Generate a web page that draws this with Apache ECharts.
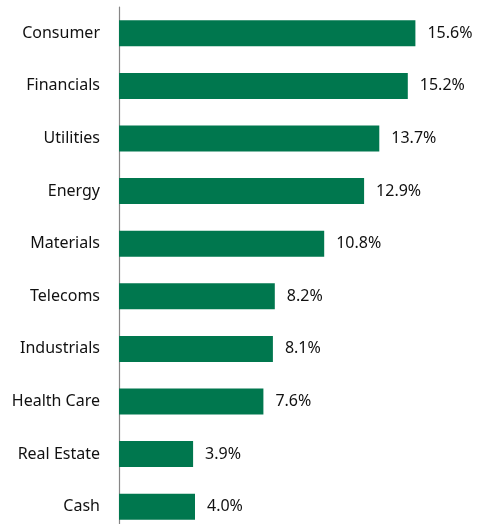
<!DOCTYPE html>
<html>
<head>
<meta charset="utf-8">
<script src="https://cdn.jsdelivr.net/npm/echarts@6/dist/echarts.min.js"></script>
<style>
html,body{margin:0;padding:0;background:#fff;overflow:hidden;}
#chart{width:477px;height:540px;}
</style>
</head>
<body>
<div id="chart"></div>
<script>
const categories = ["Consumer","Financials","Utilities","Energy","Materials","Telecoms","Industrials","Health Care","Real Estate","Cash"];
const values = [15.6,15.2,13.7,12.9,10.8,8.2,8.1,7.6,3.9,4.0];

const chart = echarts.init(document.getElementById('chart'));
chart.setOption({
  animation: false,
  grid: {left: 119, top: 7, width: 342, height: 526, containLabel: false},
  xAxis: {
    type: 'value', min: 0, max: 18,
    show: false
  },
  yAxis: {
    type: 'category',
    data: categories,
    inverse: true,
    axisLine: {show: true, lineStyle: {color: '#868686', width: 1.2}},
    axisTick: {show: false},
    axisLabel: {color: '#111', fontFamily: 'Noto Sans', fontSize: 16, margin: 19}
  },
  series: [{
    type: 'bar',
    data: values,
    barWidth: 26,
    itemStyle: {color: '#00774E'},
    label: {
      show: true, position: 'right', distance: 12,
      color: '#111', fontFamily: 'Noto Sans', fontSize: 16,
      formatter: p => p.value.toFixed(1) + '%'
    }
  }]
});
</script>
</body>
</html>
